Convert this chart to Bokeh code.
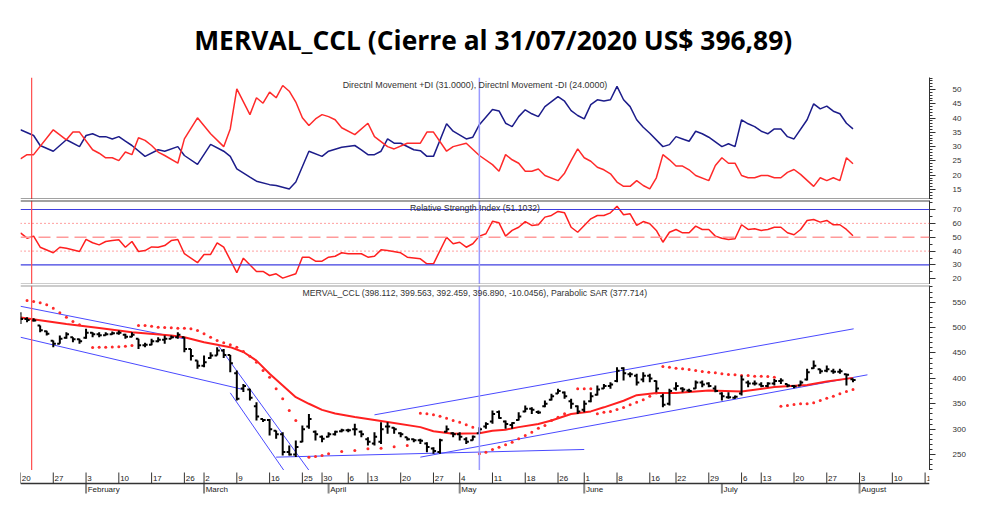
from bokeh.plotting import figure
from bokeh.models import Range1d, Span, Label, FixedTicker
from bokeh.layouts import column
from bokeh.embed import file_html
from bokeh.resources import INLINE
from bokeh.core.properties import value

TITLE = "MERVAL_CCL (Cierre al 31/07/2020 US$ 396,89)"
DMI_LABEL = "Directnl Movement +DI (31.0000), Directnl Movement -DI (24.0000)"
RSI_LABEL = "Relative Strength Index (51.1032)"
PRICE_LABEL = "MERVAL_CCL (398.112, 399.563, 392.459, 396.890, -10.0456), Parabolic SAR (377.714)"

# ---- x axis: trading-session index (0 = 20 Jan 2020) ----
WEEK_TICKS = [0, 5, 10, 15, 20, 25, 28, 33, 38, 43, 46, 50, 53, 58, 63, 67, 72, 77, 82,
              86, 91, 96, 100, 105, 110, 113, 118, 123, 128, 133, 138]
WEEK_LABELS = ["20", "27", "3", "10", "17", "26", "2", "9", "16", "25", "30", "6", "13", "20",
               "27", "4", "11", "18", "26", "1", "8", "16", "22", "29", "6", "13", "20", "27",
               "3", "10", "18"]
MONTH_TICKS = [10, 28, 47, 67, 86, 107, 128]
MONTH_LABELS = ["February", "March", "April", "May", "June", "July", "August"]
MARK_RED = 1.7
MARK_BLUE = 70

# ---- Directional movement ----
PDI = [(0, 35.9), (2, 33.9), (3, 30.4), (5, 28.4), (7, 32.4), (9, 30.0), (10, 33.9), (11, 34.5),
       (12, 33.5), (13, 33.5), (14, 32.7), (15, 33.5), (16, 31.9), (17, 30.4), (19, 26.6),
       (21, 28.9), (22, 28.4), (24, 30.0), (25, 26.9), (27, 23.8), (29, 30.8), (31, 28.4),
       (32, 26.6), (33, 22.2), (35, 19.3), (36, 17.9), (38, 16.7), (39, 16.4), (41, 15.2),
       (42, 17.6), (44, 28.4), (46, 26.6), (47, 28.4), (49, 29.8), (51, 30.4), (52, 28.9),
       (53, 27.2), (54, 27.2), (55, 28.4), (56, 32.7), (57, 31.2), (58, 31.2), (60, 28.9),
       (61, 28.6), (62, 26.6), (63, 26.6), (65, 38.0), (66, 35.4), (68, 32.7), (69, 33.3),
       (70, 37.7), (72, 43.0), (73, 42.5), (74, 38.2), (75, 37.0), (76, 40.5), (77, 42.9),
       (78, 41.5), (79, 40.5), (80, 44.0), (82, 47.5), (83, 45.9), (84, 42.6), (85, 40.9),
       (86, 39.7), (87, 44.7), (88, 46.4), (89, 46.0), (90, 46.4), (91, 51.1), (92, 46.4),
       (93, 44.0), (94, 39.4), (95, 36.8), (96, 34.7), (98, 30.0), (99, 30.7), (100, 33.5),
       (101, 32.7), (102, 31.9), (103, 35.4), (104, 34.5), (105, 33.3), (107, 30.0),
       (108, 31.0), (109, 30.0), (110, 39.4), (111, 38.0), (112, 37.0), (113, 35.4),
       (114, 34.5), (115, 36.2), (116, 36.2), (117, 33.5), (118, 32.7), (120, 39.4),
       (121, 45.0), (122, 43.2), (123, 44.2), (124, 42.4), (125, 41.5), (126, 38.2), (127, 36.2)]
MDI = [(0, 25.7), (1, 27.2), (2, 27.2), (5, 35.9), (7, 32.4), (8, 35.1), (9, 35.1), (11, 28.9),
       (12, 27.7), (13, 26.1), (14, 26.1), (15, 25.1), (16, 28.1), (17, 27.2), (18, 33.1),
       (19, 32.2), (20, 30.4), (21, 28.1), (22, 26.9), (24, 24.2), (25, 32.7), (27, 40.1),
       (29, 34.5), (31, 30.0), (32, 36.2), (33, 50.2), (35, 41.2), (36, 47.1), (37, 45.2),
       (38, 49.1), (39, 47.1), (40, 51.4), (41, 49.4), (42, 45.6), (43, 40.1), (44, 37.4),
       (45, 39.7), (46, 41.2), (47, 40.5), (48, 39.4), (49, 36.6), (51, 34.2), (53, 38.2),
       (54, 33.5), (56, 30.0), (57, 29.2), (59, 31.2), (61, 31.2), (62, 35.1), (63, 35.1),
       (65, 28.4), (66, 30.0), (68, 31.2), (70, 26.9), (72, 23.7), (73, 21.4), (74, 27.2),
       (75, 25.4), (76, 24.2), (77, 21.4), (78, 21.4), (79, 22.2), (80, 19.9), (82, 18.1),
       (83, 20.7), (84, 25.1), (85, 29.2), (86, 26.1), (87, 24.9), (88, 22.8), (89, 21.9),
       (90, 20.5), (91, 17.6), (92, 16.1), (93, 16.1), (94, 18.1), (95, 16.4), (96, 15.2),
       (97, 19.1), (98, 27.2), (99, 25.4), (100, 23.2), (101, 23.2), (102, 21.9), (103, 19.9),
       (105, 18.1), (106, 23.4), (107, 26.1), (108, 24.2), (109, 24.2), (110, 19.9),
       (111, 19.1), (112, 19.1), (113, 19.9), (114, 19.9), (115, 19.1), (116, 19.1),
       (117, 21.0), (118, 22.0), (119, 20.3), (121, 16.1), (122, 19.1), (123, 18.1),
       (124, 19.1), (125, 18.1), (126, 26.1), (127, 24.0)]

# ---- RSI ----
RSI = [(0, 53.2), (1, 49.3), (2, 50.8), (3, 42.8), (5, 38.8), (6, 42.8), (7, 42.1), (9, 39.7),
       (10, 48.4), (11, 46.0), (12, 44.5), (13, 46.9), (14, 47.6), (15, 48.1), (16, 42.8),
       (17, 46.9), (18, 39.7), (19, 40.4), (20, 43.0), (21, 42.8), (22, 44.0), (23, 47.6),
       (24, 48.4), (25, 38.1), (27, 31.6), (28, 37.6), (29, 37.6), (30, 46.0), (31, 42.8),
       (33, 24.4), (34, 34.9), (36, 25.3), (37, 25.3), (38, 22.4), (39, 23.6), (40, 20.5),
       (42, 23.6), (43, 35.6), (44, 35.6), (45, 32.7), (46, 32.7), (47, 35.6), (48, 36.3),
       (49, 38.8), (50, 38.1), (52, 38.1), (53, 35.6), (54, 36.3), (55, 40.9), (56, 40.4),
       (58, 38.8), (59, 35.6), (61, 34.4), (62, 30.8), (63, 30.8), (65, 50.0), (66, 45.3),
       (67, 46.4), (68, 42.8), (69, 45.3), (70, 50.8), (71, 52.5), (72, 61.5), (73, 60.4),
       (74, 50.8), (75, 54.9), (76, 57.2), (77, 61.3), (78, 58.5), (79, 59.0), (80, 64.5),
       (81, 65.7), (82, 68.6), (83, 67.6), (84, 57.2), (85, 53.6), (86, 58.5), (87, 63.3),
       (88, 65.7), (89, 65.7), (90, 67.6), (91, 72.4), (92, 66.2), (93, 66.9), (94, 58.5),
       (95, 61.3), (96, 59.7), (97, 54.9), (98, 46.4), (99, 53.6), (100, 55.6), (101, 53.2),
       (102, 53.2), (103, 58.0), (104, 55.6), (105, 55.6), (106, 50.8), (107, 49.3),
       (108, 48.4), (109, 48.9), (110, 59.0), (111, 55.6), (112, 56.1), (113, 54.9),
       (114, 55.6), (115, 57.2), (116, 57.2), (117, 53.2), (118, 51.8), (119, 55.6),
       (120, 62.1), (121, 62.8), (122, 60.9), (123, 62.1), (124, 59.0), (125, 59.0),
       (126, 55.6), (127, 51.1)]
RSI_LEVELS_SOLID = [70, 30]
RSI_LEVELS_DOT = [60, 40]
RSI_MID = 50

# ---- Price OHLC (one row per session) ----
OPEN = [528, 517, 514, 504, 493, 474, 468, 480, 481, 477, 480, 490, 487, 485, 487, 489, 486, 482,
        478, 465, 466, 473, 476, 478, 481, 481, 458, 435, 425, 440, 445, 455, 446, 410, 380, 378,
        345, 320, 318, 297, 290, 255, 250, 275, 305, 295, 285, 285, 290, 296, 298, 300, 295, 280,
        272, 275, 305, 303, 292, 284, 280, 278, 272, 262, 255, 295, 292, 290, 280, 278, 292, 305,
        315, 334, 315, 308, 318, 335, 340, 334, 345, 358, 370, 372, 355, 345, 338, 355, 368, 380,
        385, 395, 420, 408, 405, 398, 405, 395, 365, 350, 380, 380, 376, 380, 392, 390, 380, 370,
        363, 362, 370, 392, 390, 388, 385, 390, 395, 389, 385, 386, 398, 420, 418, 415, 414, 413,
        408, 398.112]
HIGH = [530, 520.5, 518.6, 504, 494, 474.6, 484.4, 491, 481, 478, 497.6, 491, 491, 491, 492.3,
        494.3, 487.7, 491, 478, 470, 478, 481, 484.4, 484.4, 491, 481, 458, 435, 445, 451.6, 461.5,
        458, 446, 415.5, 389, 379.4, 353, 320, 320, 297.4, 294, 268, 277.7, 307, 330, 297.4, 287.5,
        294, 297, 300.7, 300.7, 310.5, 297.4, 284, 294, 313.8, 313.8, 304, 294, 284, 281, 281,
        274.4, 264.5, 281, 307, 294, 294, 284, 287.5, 304, 313.8, 336.7, 336.7, 317, 313.8, 333.5,
        346.6, 343.3, 336.7, 356.5, 369.6, 379.4, 374, 359.7, 346.6, 356.5, 372.9, 386, 389, 392.5,
        422, 422, 412, 409, 412, 409, 395.8, 369.6, 379.4, 392.5, 382.7, 379.4, 395.8, 395.8,
        392.5, 386, 372.9, 372.9, 366.3, 405.7, 395.8, 395.8, 392.5, 392.5, 399, 400.4, 389, 387,
        395.8, 418.8, 435, 418.8, 425.4, 418.8, 418.8, 409, 399.563]
LOW = [507, 510.7, 512, 491, 484.5, 461.5, 468, 478, 471, 468, 478, 481, 481, 484.4, 485.8, 485.8,
       478, 481, 458, 461.5, 465, 471, 468, 478, 478, 451.6, 435, 418.8, 422, 438.5, 445, 440, 412,
       356.5, 373, 356.5, 317, 314, 287.5, 281, 248, 248, 245, 274, 300.7, 277.7, 274.4, 284,
       287.5, 294, 294, 287.5, 284, 268, 268, 271, 290.8, 290.8, 284, 277.7, 274.4, 271, 254.7,
       251.4, 251.4, 294, 284, 277.7, 271, 277.7, 290.8, 300.7, 310.5, 320.3, 300.7, 300.7, 317,
       333.5, 330, 330, 343.3, 356.5, 369.6, 359.7, 340, 330, 333.5, 353, 366.3, 379.4, 379.4,
       392.5, 395.8, 402.4, 386, 392.5, 392.5, 372.9, 343.3, 346.6, 376, 372.9, 372.9, 379.4,
       382.7, 382.7, 372.9, 356.5, 359.7, 359.7, 366.3, 382.7, 386, 382.7, 382.7, 386, 389,
       382.7, 380.7, 386, 395.8, 418.8, 409, 412, 409, 409, 386, 392.459]
CLOSE = [517, 515, 514, 495, 488, 468, 478, 487, 477, 473, 490, 487, 485, 487, 489, 490, 482, 486,
         465, 466, 473, 476, 478, 481, 486, 458, 444, 425, 432, 445, 455, 446, 430, 360, 385, 362,
         325, 318, 300, 290, 255, 250, 265, 300, 320, 290, 281, 290, 295, 298, 298, 300, 290, 275,
         285, 300, 305, 300, 290, 280, 278, 277, 265, 257, 278, 300, 290, 285, 275, 285, 300, 310,
         330, 322, 310, 312, 325, 340, 338, 333, 350, 365, 375, 365, 350, 335, 350, 365, 378, 385,
         388, 415, 410, 408, 392, 405, 400, 380, 348, 375, 385, 378, 375, 392, 388, 385, 375, 365,
         363, 364, 398, 390, 390, 385, 390, 395, 396, 386, 384, 392, 412, 425, 414, 418, 413, 414,
         406.94, 396.89]

# ---- Moving average and Parabolic SAR ----
MA = [(0, 520), (7, 507), (12, 499), (17, 491), (23, 484.4), (25, 481), (28, 471), (32, 461.5),
      (34, 452), (36, 435), (38, 409), (40, 386), (42, 363), (44, 350), (46, 338), (48, 331),
      (51, 324), (56, 314), (61, 304), (63, 296), (66, 291), (70, 292), (72, 297), (74, 299),
      (76, 304), (79, 310), (81, 317), (84, 330), (87, 335), (89, 343), (92, 356), (94, 367),
      (97, 371), (100, 371), (105, 376), (110, 374), (115, 383), (120, 387), (123, 394), (127, 401)]
SAR = [(1, 553.4), (2, 551.4), (3, 548.8), (4, 544.8), (5, 538.3), (6, 529), (7, 520.5), (8, 512),
       (9, 505.4), (11, 460.8), (12, 461.2), (13, 461.5), (14, 462), (15, 462.5), (16, 463.5),
       (17, 464.7), (18, 504.1), (19, 504.1), (20, 502.8), (21, 500.8), (22, 500.2), (23, 499.5),
       (24, 498.9), (25, 498.9), (26, 497.6), (27, 494.3), (28, 488), (29, 481.2), (30, 474.6),
       (31, 470), (32, 466), (33, 461.5), (34, 452.9), (35, 443.7), (36, 431.9), (37, 415.5),
       (38, 402.4), (39, 379.4), (40, 359.7), (41, 336.8), (42, 317), (44, 244.9), (45, 246.2),
       (46, 248.1), (47, 251.4), (49, 256), (51, 258), (53, 261.3), (55, 262.6), (57, 265.2),
       (59, 267.8), (61, 331.5), (62, 330.2), (63, 328.2), (64, 325.6), (65, 321.7), (66, 317.1),
       (67, 313.8), (68, 308.5), (69, 303.9), (70, 251.4), (71, 254.7), (72, 260), (73, 264.5),
       (74, 269.1), (75, 274.4), (76, 281), (77, 287.5), (78, 294.1), (79, 302), (80, 307.2),
       (81, 317.1), (82, 323.6), (83, 330.2), (85, 379.4), (86, 379.4), (87, 379.4), (88, 330.2),
       (89, 333.5), (90, 334.8), (91, 338.7), (92, 342.7), (93, 347.9), (94, 353.2), (95, 357.8),
       (96, 365), (97, 371), (98, 423.4), (99, 422), (100, 420.1), (101, 418.8), (102, 417.5),
       (103, 415.5), (104, 413.6), (105, 412.2), (106, 410.9), (107, 408.9), (108, 407.6),
       (109, 407), (110, 405.7), (111, 405.7), (112, 404.4), (113, 404.4), (114, 403.7),
       (115, 402.4), (116, 345.3), (117, 346.6), (118, 348.6), (119, 349.9), (120, 349.9),
       (121, 351.8), (122, 356.4), (123, 361), (124, 365), (125, 369.6), (126, 374.2), (127, 378.1)]

# ---- hand-drawn trend lines: (session0, price0, session1, price1) ----
TRENDLINES = [(0, 542, 25, 478), (0, 481, 34, 378), (30, 468, 44, 219), (32, 371.5, 40.3, 216.6),
              (39, 244.9, 86, 260), (61, 244.9, 129.2, 407), (54, 328.2, 127.1, 497.6)]

DMI_TICKS = [15, 20, 25, 30, 35, 40, 45, 50]
RSI_TICKS = [20, 30, 40, 50, 60, 70]
PRICE_TICKS = [250, 300, 350, 400, 450, 500, 550]

# ---------------- layout constants ----------------
FW = 909
BL, BR = 20, 44
XR = Range1d(0.0, 138.67)
FONT = value("Liberation Sans")
TXT = "#333333"


def panel(h, y0, y1, top):
    p = figure(frame_width=FW, frame_height=h, x_range=XR, y_range=Range1d(y0, y1),
               min_border_left=BL, min_border_right=BR, min_border_top=top, min_border_bottom=0,
               toolbar_location=None, output_backend="svg", y_axis_location="right",
               x_axis_location=None, title=None, tools="")
    p.xgrid.visible = False
    p.ygrid.visible = False
    p.outline_line_color = None
    ax = p.yaxis[0]
    ax.axis_line_color = "#333333"
    ax.major_tick_line_color = "#333333"
    ax.minor_tick_line_color = "#333333"
    ax.major_tick_out = 6
    ax.major_tick_in = 0
    ax.minor_tick_out = 3
    ax.minor_tick_in = 0
    ax.major_label_standoff = 17
    ax.major_label_text_font = "Liberation Sans"
    ax.major_label_text_font_size = "8px"
    ax.major_label_text_color = TXT
    return p


def header(p, text, ytop, size):
    p.add_layout(Label(x=(XR.start + XR.end) / 2, y=ytop, y_offset=-7, text=text,
                       text_align="center", text_baseline="middle", text_font="Liberation Sans",
                       text_font_size=size, text_color=TXT))


def marks(p):
    p.add_layout(Span(location=MARK_RED, dimension="height", line_color="#ff4d4d", line_width=1.2))
    p.add_layout(Span(location=MARK_BLUE, dimension="height", line_color="#9a9aff", line_width=1.5))


def split(pairs):
    return [a for a, b in pairs], [b for a, b in pairs]


# title
TW = FW + BL + BR
tf = figure(width=TW, height=70, x_range=Range1d(0, TW), y_range=Range1d(0, 70),
            toolbar_location=None, output_backend="svg", min_border=0, title=None, tools="",
            x_axis_location=None, y_axis_location=None)
tf.grid.visible = False
tf.outline_line_color = None
tf.text(x=[506], y=[31], text=[TITLE], text_font=value("Open Sans"), text_font_style="bold",
        text_font_size="26.4px", text_align="center", text_baseline="middle", text_color="#000000")

# DMI
DMI_LO, DMI_HI = 11.5, 54.2
dmi = panel(122, DMI_LO, DMI_HI, 7)
dmi.yaxis.ticker = FixedTicker(ticks=DMI_TICKS, minor_ticks=list(range(12, 55)))
marks(dmi)
x, y = split(PDI)
dmi.line(x, y, line_color="#1c1c8a", line_width=1.5)
x, y = split(MDI)
dmi.line(x, y, line_color="#ff2a2a", line_width=1.5)
header(dmi, DMI_LABEL, DMI_HI, "8.9px")
dmi.add_layout(Span(location=DMI_LO, dimension="width", line_color="#444444", line_width=2))

# RSI
RSI_LO, RSI_HI = 15.9, 76.5
rsi = panel(84, RSI_LO, RSI_HI, 1)
rsi.yaxis.ticker = FixedTicker(ticks=RSI_TICKS, minor_ticks=list(range(20, 80, 5)))
for lv in RSI_LEVELS_SOLID:
    rsi.add_layout(Span(location=lv, dimension="width", line_color="#3f3fe0", line_width=1.2))
for lv in RSI_LEVELS_DOT:
    rsi.add_layout(Span(location=lv, dimension="width", line_color="#ff4040", line_width=1,
                        line_dash="1 3"))
rsi.add_layout(Span(location=RSI_MID, dimension="width", line_color="#ff9a9a", line_width=1.5,
                    line_dash="12 6"))
marks(rsi)
x, y = split(RSI)
rsi.line(x, y, line_color="#ff1f1f", line_width=1.5)
header(rsi, RSI_LABEL, RSI_HI, "8.7px")
rsi.add_layout(Span(location=RSI_HI, dimension="width", line_color="#444444", line_width=2))
rsi.add_layout(Span(location=RSI_LO, dimension="width", line_color="#999999", line_width=2))

# Price
P_LO, P_HI = 218.6, 582.9
pr = panel(185, P_LO, P_HI, 1)
pr.yaxis.ticker = FixedTicker(ticks=PRICE_TICKS, minor_ticks=list(range(220, 590, 10)))
marks(pr)
for x0, y0, x1, y1 in TRENDLINES:
    pr.segment(x0=[x0], y0=[y0], x1=[x1], y1=[y1], line_color="#4a4aff", line_width=1)
x, y = split(MA)
pr.line(x, y, line_color="#ff2020", line_width=2)
x, y = split(SAR)
pr.scatter(x, y, size=3, marker="circle", fill_color="#ff2a2a", line_color=None)
idx = list(range(len(CLOSE)))
pr.segment(x0=idx, y0=LOW, x1=idx, y1=HIGH, line_color="#000000", line_width=2)
pr.segment(x0=[i - 0.4 for i in idx], y0=OPEN, x1=idx, y1=OPEN, line_color="#000000", line_width=2)
pr.segment(x0=idx, y0=CLOSE, x1=[i + 0.4 for i in idx], y1=CLOSE, line_color="#000000", line_width=2)
header(pr, PRICE_LABEL, P_HI, "8.7px")
pr.add_layout(Span(location=P_HI, dimension="width", line_color="#999999", line_width=2))

# date strip
ds = figure(frame_width=FW, frame_height=27, x_range=XR, y_range=Range1d(-14, 13),
            min_border_left=BL, min_border_right=BR, min_border_top=0, min_border_bottom=0,
            toolbar_location=None, output_backend="svg", x_axis_location=None,
            y_axis_location=None, title=None, tools="")
ds.grid.visible = False
ds.outline_line_color = None
ds.segment(x0=WEEK_TICKS, y0=[0] * len(WEEK_TICKS), x1=WEEK_TICKS, y1=[11] * len(WEEK_TICKS),
           line_color="#333333", line_width=1)
ds.text(x=[t + 0.2 for t in WEEK_TICKS], y=[5] * len(WEEK_TICKS), text=WEEK_LABELS,
        text_font=FONT, text_font_size="8px", text_align="left", text_baseline="middle",
        text_color="#222222")
ds.segment(x0=MONTH_TICKS, y0=[0] * len(MONTH_TICKS), x1=MONTH_TICKS,
           y1=[-10] * len(MONTH_TICKS), line_color="#888888", line_width=2)
ds.text(x=[t + 0.25 for t in MONTH_TICKS], y=[-6] * len(MONTH_TICKS), text=MONTH_LABELS,
        text_font=FONT, text_font_size="8px", text_align="left", text_baseline="middle",
        text_color="#222222")
ds.add_layout(Span(location=0, dimension="width", line_color="#333333", line_width=1.5))

layout = column(tf, dmi, rsi, pr, ds)
open("out.html", "w").write(file_html(layout, INLINE))
